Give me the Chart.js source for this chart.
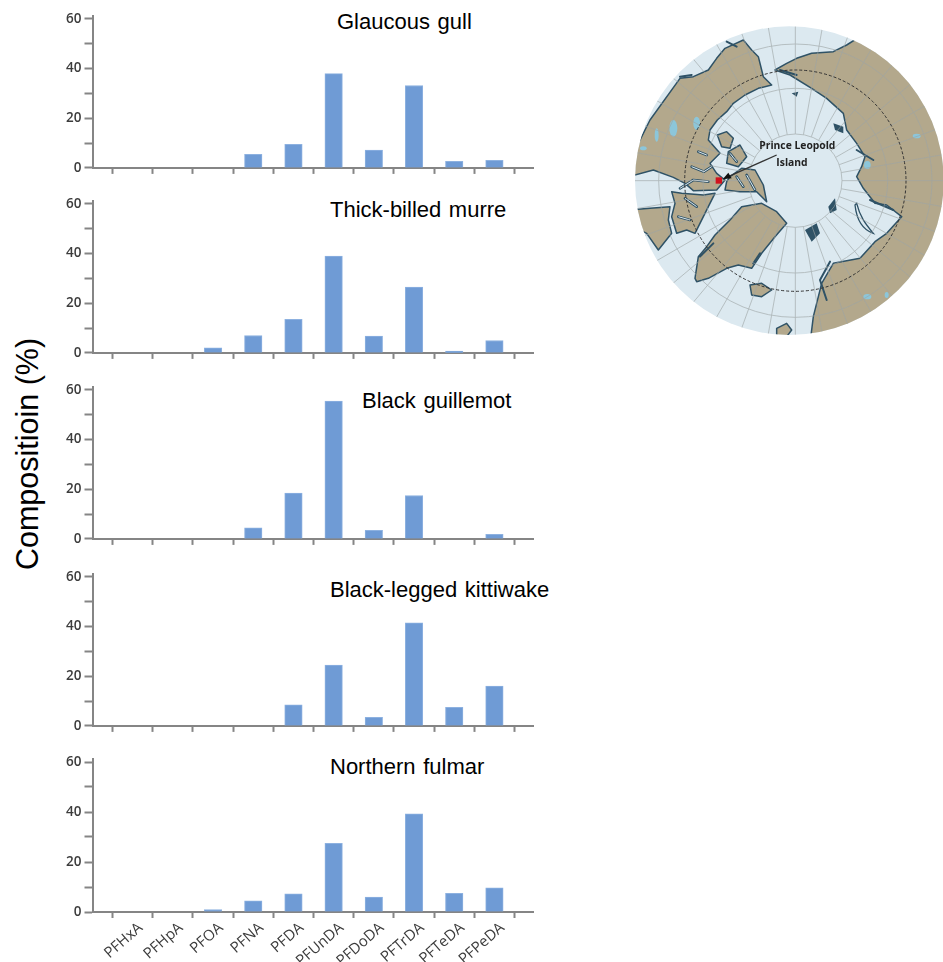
<!DOCTYPE html>
<html><head><meta charset="utf-8">
<script src="https://cdn.jsdelivr.net/npm/chart.js@4"></script>
<style>
html,body{margin:0;padding:0;background:#fff;width:943px;height:962px;overflow:hidden}
canvas{position:absolute;left:0}
.t{position:absolute;font-family:"Liberation Sans",Arial,sans-serif;font-size:22px;color:#000;white-space:nowrap;line-height:24px;word-spacing:1.5px}
#yt{position:absolute;font-family:"Liberation Sans",Arial,sans-serif;font-size:30.5px;color:#000;white-space:nowrap;left:27px;top:454px;transform:translate(-50%,-50%) rotate(-90deg)}
#map{position:absolute;left:630px;top:20px;filter:blur(.5px)}
</style></head><body>
<div id="yt">Compositioin (%)</div>
<svg id="map" width="313" height="320" viewBox="0 0 939 960">
<defs><clipPath id="c"><circle cx="478" cy="482" r="463"/></clipPath></defs>
<g clip-path="url(#c)">
<rect width="939" height="960" fill="#dce9f0"/>
<g fill="#b3a88c" stroke="#2f5266" stroke-width="4.5" stroke-linejoin="round">
<path d="M-10 440 L60 300 L150 175 L190 170 L235 150 L260 115 L285 85 L340 60 L365 90 L385 110 L395 150 L400 170 L425 195 L385 205 L345 225 L310 250 L290 275 L262 300 L240 330 L235 360 L270 400 L240 430 L260 460 L285 480 L260 510 L190 512 L165 490 L130 472 L70 450 L-10 472Z"/>
<path d="M435 150 L470 130 L500 115 L545 100 L610 95 L650 75 L690 50 L720 -10 L960 -10 L960 970 L540 970 L550 890 L575 790 L610 730 L650 722 L690 715 L735 665 L770 640 L815 590 L770 555 L735 550 L700 505 L680 470 L695 440 L705 410 L680 370 L650 330 L640 280 L590 235 L545 205 L480 165Z"/>
<path d="M-10 570 L60 565 L120 560 L115 600 L125 640 L85 690 L50 640 L-10 610Z"/>
<path d="M195 775 L205 710 L230 680 L255 645 L300 600 L335 560 L395 550 L440 575 L470 610 L435 650 L395 700 L365 745 L325 735 L290 745 L235 775 L200 785Z"/>
<path d="M125 590 L135 550 L125 515 L155 520 L220 525 L255 520 L235 560 L195 640 L170 630 L140 640Z"/>
<path d="M262 345 L290 335 L310 355 L300 385 L275 380Z"/>
<path d="M295 395 L330 375 L350 410 L325 440 L290 430Z"/>
<path d="M300 470 L335 445 L375 450 L400 495 L410 545 L380 515 L330 515 L285 510 L290 485Z"/>
<path d="M360 795 L395 790 L425 810 L395 830 L365 825Z"/>
<path d="M440 925 L470 910 L485 930 L470 950 L440 950Z"/>
</g>
<g fill="none" stroke="#2f5266" stroke-width="8" stroke-linecap="round" stroke-linejoin="round">
<path id="ch" d="M185 440 L222 455 L245 440M205 395 L230 405M150 505 L190 480 L235 485M320 470 L340 500M350 465 L375 510M300 400 L320 425M165 535 L200 560M145 590 L180 600"/>
</g>
<path d="M185 440 L222 455 L245 440M205 395 L230 405M150 505 L190 480 L235 485M320 470 L340 500M350 465 L375 510M300 400 L320 425M165 535 L200 560M145 590 L180 600" fill="none" stroke="#dce9f0" stroke-width="3"/>
<g fill="none" stroke="#2f5266" stroke-width="6" stroke-linecap="round" stroke-linejoin="round">
<path d="M150 170 L185 165"/><path d="M450 150 L500 165"/><path d="M290 65 L320 80"/><path d="M680 390 L730 420"/><path d="M720 540 L790 570"/><path d="M600 725 L570 780 L590 840"/><path d="M370 730 L390 700"/><path d="M210 710 L250 670"/>
</g>
<g fill="#dce9f0" stroke="#2f5266" stroke-width="4"><path d="M675 555 C680 600 700 630 730 640 C705 610 690 590 680 550Z"/></g>
<g fill="#2f5266"><path d="M595 560 L615 535 L620 570 L600 580Z"/><path d="M525 630 L560 610 L570 640 L545 665Z"/><path d="M610 310 L640 320 L640 340 L615 330Z"/><path d="M485 220 L505 215 L500 230Z"/></g>
<g fill="#8cc6da"><ellipse cx="130" cy="325" rx="12" ry="25"/><ellipse cx="200" cy="310" rx="10" ry="20"/><ellipse cx="80" cy="345" rx="6" ry="20"/><ellipse cx="40" cy="385" rx="10" ry="6"/><ellipse cx="860" cy="348" rx="12" ry="7"/><ellipse cx="712" cy="830" rx="12" ry="8"/><ellipse cx="875" cy="745" rx="5" ry="12"/><ellipse cx="770" cy="825" rx="6" ry="9"/><ellipse cx="712" cy="435" rx="10" ry="12"/></g>
<g id="grat" fill="none" stroke="#9da5a5" stroke-width="2.5" opacity=".75"></g>
<circle cx="496" cy="482" r="332" fill="none" stroke="#333" stroke-width="3" stroke-dasharray="9 6"/>
</g>
<path d="M440 405 L295 470" stroke="#333" stroke-width="4"/>
<path d="M278 478 L295 458 L305 475Z" fill="#111"/>
<rect x="257" y="472" width="19" height="19" fill="#d1121e"/>
<g font-family="'Open Sans',sans-serif" font-weight="700" font-size="31" fill="#222" text-anchor="middle"><text x="502" y="388">Prince Leopold</text><text x="486" y="438">Island</text></g>
</svg>
<script>
const categories = ['PFHxA','PFHpA','PFOA','PFNA','PFDA','PFUnDA','PFDoDA','PFTrDA','PFTeDA','PFPeDA'];
const glaucousGull      = [0,0,0,5.5,9.5,38,7.2,33.2,2.6,3];
const thickBilledMurre  = [0,0,2,7,13.5,39,6.8,26.5,0.7,5];
const blackGuillemot    = [0,0,0,4.5,18.5,55.5,3.5,17.5,0,1.8];
const blackLeggedKittiwake = [0,0,0,0,8.5,24.5,3.5,41.5,7.5,16];
const northernFulmar    = [0,0,1,4.5,7.3,27.5,6,39.3,7.5,9.7];
const yTicks = [0,10,20,30,40,50,60];
const yLabels = [0,20,40,60];
const panels = [
 {name:'Glaucous gull',data:glaucousGull,zero:169,tx:337,ty:10},
 {name:'Thick-billed murre',data:thickBilledMurre,zero:354,tx:330,ty:198},
 {name:'Black guillemot',data:blackGuillemot,zero:540,tx:362,ty:389},
 {name:'Black-legged kittiwake',data:blackLeggedKittiwake,zero:727,tx:330,ty:578},
 {name:'Northern fulmar',data:northernFulmar,zero:912,tx:330,ty:755}
];
const axisGrey='#858585', textGrey='#3c3c3c';
const labelShift=0.2;
const isEdge=v=>Math.abs(v-Math.round(v))<1e-6;
// map graticule (decoration, not chart data)
(function(){
  const g=document.getElementById('grat'),NS='http://www.w3.org/2000/svg';
  [140,277,410].forEach(r=>{const c=document.createElementNS(NS,'circle');c.setAttribute('cx',496);c.setAttribute('cy',482);c.setAttribute('r',r);g.appendChild(c);});
  for(let a=0;a<360;a+=10){const t=a*Math.PI/180,l=document.createElementNS(NS,'line');
    l.setAttribute('x1',496+140*Math.cos(t));l.setAttribute('y1',482+140*Math.sin(t));
    l.setAttribute('x2',496+700*Math.cos(t));l.setAttribute('y2',482+700*Math.sin(t));g.appendChild(l);}
})();
panels.forEach((p,idx)=>{
  const last=idx===panels.length-1;
  const t=document.createElement('div');t.className='t';t.textContent=p.name;t.style.left=p.tx+'px';t.style.top=p.ty+'px';document.body.appendChild(t);
  const cv=document.createElement('canvas');
  const H=last?51:10;
  cv.width=560;cv.height=165+H;cv.style.top=(p.zero-165)+'px';cv.style.width='560px';cv.style.height=(165+H)+'px';
  document.body.appendChild(cv);
  new Chart(cv,{type:'bar',
   data:{datasets:[{label:p.name,
     data:p.data.map((v,i)=>({x:i+0.5,y:v})),
     backgroundColor:c=>c.raw&&c.raw.y>0?'#6f9bd5':'rgba(0,0,0,0)',borderColor:'#8db1e0',
     borderWidth:c=>c.raw&&c.raw.y>0?1:0,
     barThickness:17.5}]},
   options:{responsive:false,animation:false,
    layout:{padding:{top:11.75,right:27,left:0,bottom:0}},
    plugins:{legend:{display:false},title:{display:false},tooltip:{enabled:false}},
    scales:{
     x:{type:'linear',offset:false,min:-0.5,max:10.46,
       afterBuildTicks:s=>{
         const tk=[];
         for(let i=0;i<=10;i++){tk.push({value:i}); if(i<10)tk.push({value:i+0.5+labelShift});}
         s.ticks=tk;},
       afterFit:s=>{s.height=H;},
       border:{color:axisGrey,width:2},
       grid:{offset:false,drawOnChartArea:false,drawTicks:true,tickLength:6,tickWidth:2,
         tickColor:c=>(c.tick&&!isEdge(c.tick.value))?'rgba(0,0,0,0)':axisGrey},
       ticks:{display:last,autoSkip:false,maxRotation:41,minRotation:41,padding:1,color:textGrey,
         font:{family:'"Open Sans",sans-serif',size:15},
         callback:(v)=>isEdge(v)?'':categories[Math.round(v-0.5-labelShift)]}
     },
     y:{min:0,max:61.3,
       afterBuildTicks:s=>{s.ticks=yTicks.map(v=>({value:v}));},
       afterFit:s=>{s.width=92.5;},
       border:{color:axisGrey,width:2},
       grid:{drawOnChartArea:false,tickLength:8,tickWidth:2,tickColor:axisGrey},
       ticks:{padding:3,color:textGrey,font:{family:'"Open Sans",sans-serif',size:13.5,weight:'600'},
         callback:v=>yLabels.includes(v)?String(v):''}
     }
    }}});
});
</script>
</body></html>
